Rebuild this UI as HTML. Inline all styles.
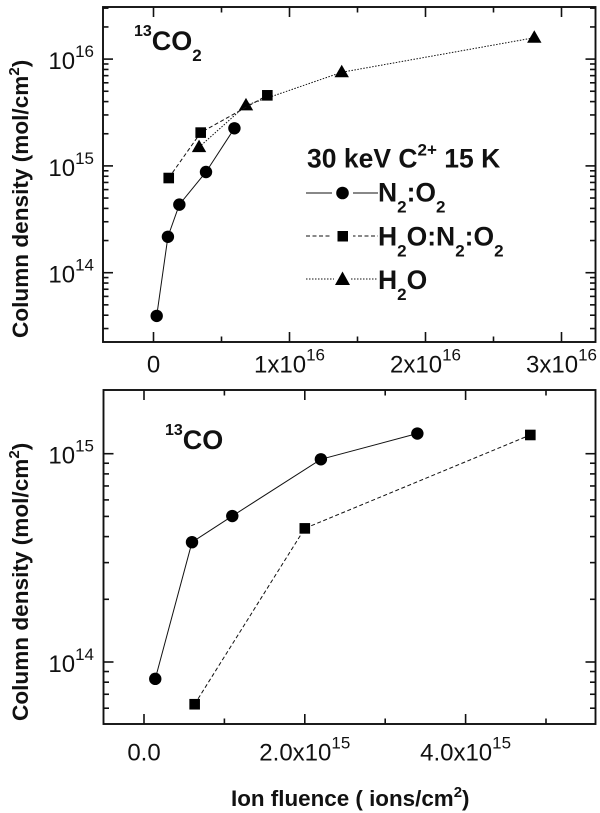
<!DOCTYPE html>
<html>
<head>
<meta charset="utf-8">
<style>
html,body{margin:0;padding:0;background:#fff;width:600px;height:813px;overflow:hidden}
svg{display:block}
text{font-family:"Liberation Sans",Arial,sans-serif;fill:#111}
.b{font-weight:bold}
</style>
</head>
<body>
<svg id="fig" width="600" height="813" viewBox="0 0 600 813" xmlns="http://www.w3.org/2000/svg">
  <rect x="103" y="7" width="492.5" height="335" fill="none" stroke="#111" stroke-width="1.9"/>
  <rect x="103.5" y="390" width="492" height="334" fill="none" stroke="#111" stroke-width="1.9"/>

  <text class="b" font-size="22.6" transform="translate(28,338) rotate(-90)">Column density (mol/cm<tspan font-size="15" dy="-9">2</tspan><tspan dy="9">)</tspan></text>
  <text class="b" font-size="22.6" transform="translate(28,721) rotate(-90)">Column density (mol/cm<tspan font-size="15" dy="-9">2</tspan><tspan dy="9">)</tspan></text>
  <text class="b" font-size="22.4" x="231" y="806">Ion fluence ( ions/cm<tspan font-size="15" dy="-9">2</tspan><tspan dy="9">)</tspan></text>

  <text class="b" font-size="27" x="134" y="50"><tspan font-size="16" dy="-14">13</tspan><tspan dy="14">CO</tspan><tspan font-size="17" dy="11">2</tspan></text>
  <text class="b" font-size="27" x="165" y="449"><tspan font-size="16" dy="-14">13</tspan><tspan dy="14">CO</tspan></text>

  <text class="b" font-size="26.5" x="307" y="167.5">30 keV C<tspan font-size="17" dy="-12">2+</tspan><tspan dy="12"> 15 K</tspan></text>

  <g>
    <line x1="306" x2="378" y1="193" y2="193" stroke="#111" stroke-width="1"/>
    <rect x="332" y="186" width="21" height="14" fill="#fff"/>
    <circle cx="342.5" cy="193" r="6.3" fill="#000"/>
    <text class="b" font-size="26.5" x="378" y="201.5">N<tspan font-size="17" dy="11">2</tspan><tspan dy="-11">:O</tspan><tspan font-size="17" dy="11">2</tspan></text>
  </g>
  <g>
    <line x1="306" x2="378" y1="236" y2="236" stroke="#111" stroke-width="1" stroke-dasharray="4 2.5"/>
    <rect x="332" y="229" width="21" height="14" fill="#fff"/>
    <rect x="337.5" y="231" width="10.5" height="10.5" fill="#000"/>
    <text class="b" font-size="26.5" x="378" y="245.5">H<tspan font-size="17" dy="11">2</tspan><tspan dy="-11">O:N</tspan><tspan font-size="17" dy="11">2</tspan><tspan dy="-11">:O</tspan><tspan font-size="17" dy="11">2</tspan></text>
  </g>
  <g>
    <line x1="306" x2="378" y1="279" y2="279" stroke="#111" stroke-width="1" stroke-dasharray="1.5 1.5"/>
    <rect x="334" y="272" width="17" height="14" fill="#fff"/>
    <polygon points="342.5,271.5 350,285 335,285" fill="#000"/>
    <text class="b" font-size="26.5" x="378" y="289">H<tspan font-size="17" dy="11">2</tspan><tspan dy="-11">O</tspan></text>
  </g>
</svg>
<script>
// Top panel (13CO2): x in units of 1e16 ions/cm2, y in mol/cm2
var topN2O2X = [0.0235, 0.106, 0.19, 0.386, 0.595];
var topN2O2Y = [3.94e13, 2.17e14, 4.34e14, 8.77e14, 2.25e15];
var topMixX = [0.112, 0.347, 0.837];
var topMixY = [7.7e14, 2.05e15, 4.58e15];
var topH2OX = [0.335, 0.68, 1.384, 2.80];
var topH2OY = [1.5e15, 3.69e15, 7.53e15, 1.585e16];
var topXTicks = [0, 1, 2, 3];
var topXTickLabels = ['0', '1x10', '2x10', '3x10'];
var topXTickExps = ['', '16', '16', '16'];
var topXMinor = [0.5, 1.5, 2.5];
var topYDecades = [14, 15, 16];

// Bottom panel (13CO): x in units of 1e15 ions/cm2, y in mol/cm2
var botN2O2X = [0.14, 0.597, 1.098, 2.20, 3.40];
var botN2O2Y = [8.3e13, 3.76e14, 5.02e14, 9.4e14, 1.25e15];
var botMixX = [0.63, 2.0, 4.805];
var botMixY = [6.27e13, 4.38e14, 1.23e15];
var botXTicks = [0, 2, 4];
var botXTickLabels = ['0.0', '2.0x10', '4.0x10'];
var botXTickExps = ['', '15', '15'];
var botXMinor = [1, 3, 5];
var botYDecades = [14, 15];

var INK = '#111';
var NS = 'http://www.w3.org/2000/svg';
var fig = document.getElementById('fig');

function mk(tag, attrs, parent) {
  var el = document.createElementNS(NS, tag);
  for (var k in attrs) el.setAttribute(k, attrs[k]);
  (parent || fig).appendChild(el);
  return el;
}

var topX = function (v) { return 153.5 + v * 136; };
var topY = function (v) { return 272.7 - (Math.log10(v) - 14) * 106.8; };
var botX = function (v) { return 144 + v * 80.4; };
var botY = function (v) { return 662 - (Math.log10(v) - 14) * 208.3; };

function drawAxes(name, x, y, box, xTicks, xMinor, xLabels, xExps, decades, labelY) {
  var g = mk('g', {});
  
  
  function seg(x1, y1, x2, y2) {
    mk('line', { x1: x1, y1: y1, x2: x2, y2: y2, stroke: INK, 'stroke-width': 1.6 }, g);
  }
  xTicks.forEach(function (t, i) {
    var px = x(t);
    seg(px, box.bottom, px, box.bottom - 10);
    seg(px, box.top, px, box.top + 10);
    var lab = mk('text', { x: px, y: labelY, 'font-size': 24, 'text-anchor': 'middle' }, g);
    
    
    lab.appendChild(document.createTextNode(xLabels[i]));
    if (xExps[i]) {
      var sup = mk('tspan', { 'font-size': 17, dy: -12 }, lab);
      sup.textContent = xExps[i];
    }
  });
  xMinor.forEach(function (t) {
    var px = x(t);
    seg(px, box.bottom, px, box.bottom - 5.5);
    seg(px, box.top, px, box.top + 5.5);
  });
  var lo = decades[0] - 1, hi = decades[decades.length - 1] + 1;
  for (var d = lo; d <= hi; d++) {
    for (var m = 1; m <= 9; m++) {
      var py = y(m * Math.pow(10, d));
      if (py > box.bottom - 1 || py < box.top + 1) continue;
      var len = m === 1 ? 10 : 5.5;
      seg(box.left, py, box.left + len, py);
      seg(box.right, py, box.right - len, py);
    }
  }
  decades.forEach(function (d) {
    var py = y(Math.pow(10, d));
    var lab = mk('text', { x: 94, y: py + 10, 'font-size': 24, 'text-anchor': 'end' }, g);
    
    
    lab.appendChild(document.createTextNode('10'));
    var sup = mk('tspan', { 'font-size': 17, dy: -12 }, lab);
    sup.textContent = String(d);
  });
}

function drawSeries(name, xs, ys, x, y, dash, marker) {
  var g = mk('g', {});
  
  
  var pts = xs.map(function (v, i) { return x(v).toFixed(2) + ',' + y(ys[i]).toFixed(2); }).join(' ');
  var line = mk('polyline', { points: pts, fill: 'none', stroke: INK, 'stroke-width': 1, 'stroke-dasharray': dash }, g);
  
  
  xs.forEach(function (v, i) {
    var px = x(v), py = y(ys[i]), m;
    if (marker === 'circle') {
      m = mk('circle', { cx: px, cy: py, r: 6.2, fill: '#000' }, g);
    } else if (marker === 'square') {
      m = mk('rect', { x: px - 5.3, y: py - 5.3, width: 10.6, height: 10.6, fill: '#000' }, g);
    } else {
      m = mk('polygon', { points: px + ',' + (py - 7.5) + ' ' + (px + 7.2) + ',' + (py + 5) + ' ' + (px - 7.2) + ',' + (py + 5), fill: '#000' }, g);
    }
    
    
  });
}

var topBox = { left: 103, right: 595.5, top: 7, bottom: 342 };
var botBox = { left: 103.5, right: 595.5, top: 390, bottom: 724 };

drawAxes('top-panel', topX, topY, topBox, topXTicks, topXMinor, topXTickLabels, topXTickExps, topYDecades, 372.5);
drawAxes('bottom-panel', botX, botY, botBox, botXTicks, botXMinor, botXTickLabels, botXTickExps, botYDecades, 760.5);

drawSeries('top-h2o-series', topH2OX, topH2OY, topX, topY, '1.5 1.5', 'triangle');
drawSeries('top-h2o-n2-o2-series', topMixX, topMixY, topX, topY, '4 2.5', 'square');
drawSeries('top-n2o2-series', topN2O2X, topN2O2Y, topX, topY, 'none', 'circle');
drawSeries('bottom-h2o-n2-o2-series', botMixX, botMixY, botX, botY, '4 2.5', 'square');
drawSeries('bottom-n2o2-series', botN2O2X, botN2O2Y, botX, botY, 'none', 'circle');
</script>
</body>
</html>
